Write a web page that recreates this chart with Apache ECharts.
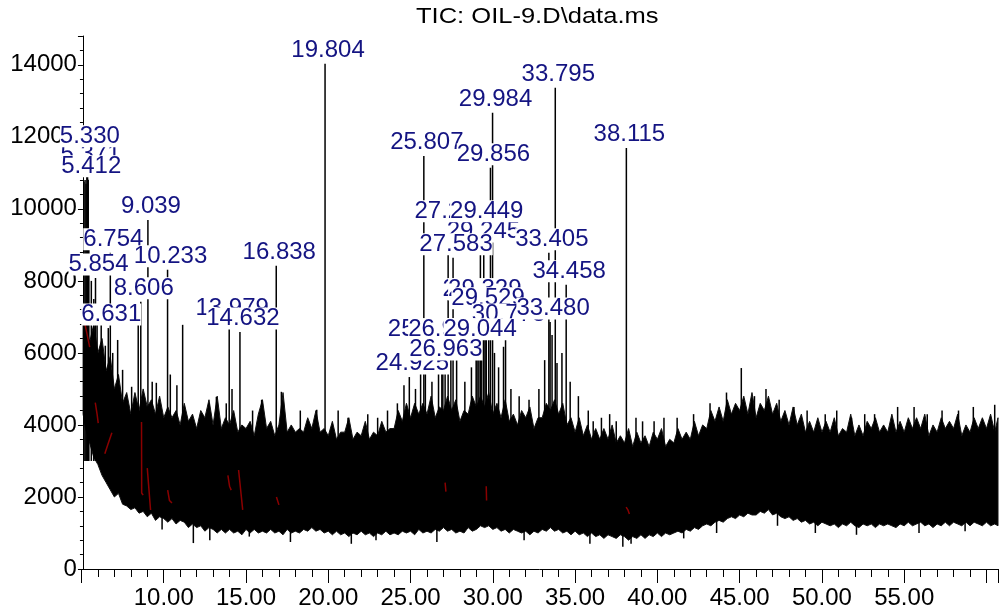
<!DOCTYPE html>
<html><head><meta charset="utf-8">
<script src="https://cdn.jsdelivr.net/npm/echarts@6.0.0/dist/echarts.min.js"></script>
<style>html,body{margin:0;padding:0;background:#fff}#c{width:1001px;height:615px}</style>
</head><body><div id="c"></div>
<script>
const TITLE = 'TIC: OIL-9.D\\data.ms';
const X_TICK_LABELS = ['10.00','15.00','20.00','25.00','30.00','35.00','40.00','45.00','50.00','55.00'];
const Y_TICK_LABELS = ['0','2000','4000','6000','8000','10000','12000','14000'];

// noise band envelope (retention time in min, abundance)
const ENV_TIME = [5.1,5.25,5.5,5.75,6.0,6.25,6.5,6.75,7.0,7.25,7.5,7.75,8.0,8.25,8.5,8.75,9.0,9.25,9.5,9.75,10.0,10.25,10.5,10.75,11.0,11.25,11.5,11.75,12.0,12.25,12.5,12.75,13.0,13.25,13.5,13.75,14.0,14.25,14.5,14.75,15.0,15.25,15.5,15.75,16.0,16.25,16.5,16.75,17.0,17.25,17.5,17.75,18.0,18.25,18.5,18.75,19.0,19.25,19.5,19.75,20.0,20.25,20.5,20.75,21.0,21.25,21.5,21.75,22.0,22.25,22.5,22.75,23.0,23.25,23.5,23.75,24.0,24.25,24.5,24.75,25.0,25.25,25.5,25.75,26.0,26.25,26.5,26.75,27.0,27.25,27.5,27.75,28.0,28.25,28.5,28.75,29.0,29.25,29.5,29.75,30.0,30.25,30.5,30.75,31.0,31.25,31.5,31.75,32.0,32.25,32.5,32.75,33.0,33.25,33.5,33.75,34.0,34.25,34.5,34.75,35.0,35.25,35.5,35.75,36.0,36.25,36.5,36.75,37.0,37.25,37.5,37.75,38.0,38.25,38.5,38.75,39.0,39.25,39.5,39.75,40.0,40.25,40.5,40.75,41.0,41.25,41.5,41.75,42.0,42.25,42.5,42.75,43.0,43.25,43.5,43.75,44.0,44.25,44.5,44.75,45.0,45.25,45.5,45.75,46.0,46.25,46.5,46.75,47.0,47.25,47.5,47.75,48.0,48.25,48.5,48.75,49.0,49.25,49.5,49.75,50.0,50.25,50.5,50.75,51.0,51.25,51.5,51.75,52.0,52.25,52.5,52.75,53.0,53.25,53.5,53.75,54.0,54.25,54.5,54.75,55.0,55.25,55.5,55.75,56.0,56.25,56.5,56.75,57.0,57.25,57.5,57.75,58.0,58.25,58.5,58.75,59.0,59.25,59.5,59.75,60.0,60.25,60.5,60.7];
const ENV_TOP = [7000,6900,6300,6800,6000,6400,5500,5900,5000,5400,4600,4900,4300,4900,4400,5000,4500,4700,4300,4800,4200,4500,4200,4400,4000,4600,4100,4300,3900,4400,4200,4700,4000,4800,3900,4200,4000,4400,3800,4000,3900,4100,3700,4300,4700,3900,4100,3700,4000,4900,3800,4000,3800,3900,3800,4200,3900,4400,3800,3900,3700,4100,3600,3800,3800,4200,3600,3800,3700,4100,3600,3800,3700,4100,3800,3900,3900,4400,4100,4600,4200,4600,4300,4600,4300,4800,4200,4500,4400,4800,4400,4700,4100,4400,4300,4800,4500,4800,4500,4900,4300,4600,4200,4700,4100,4300,4000,4400,4200,4500,3900,4200,4200,4600,4400,4700,4300,4600,4000,4200,3800,4200,3700,4000,3600,3900,3600,3900,3600,4000,3500,3700,3500,3900,3400,3800,3500,3700,3400,3800,3600,3900,3400,3600,3500,3900,3600,3800,3600,4100,3700,4000,3900,4400,4100,4500,4100,4700,4300,4600,4400,4800,4300,4900,4200,4600,4400,4800,4300,4600,4100,4400,4000,4500,4000,4300,3800,4100,3800,4200,3800,4100,3800,4200,3700,3900,3800,4300,3700,4000,3700,4100,3900,4200,3800,4000,3800,4300,3800,4100,3800,4200,3900,4200,3900,4300,3700,4000,3800,4200,3900,4100,3900,4300,3700,4000,3800,4200,3900,4200,3900,4300,3800,4200];
const ENV_BOTTOM = [4300,3900,3500,3100,2900,2600,2400,2200,2000,2100,1800,1750,1650,1700,1550,1600,1450,1550,1350,1450,1400,1300,1400,1250,1350,1300,1150,1250,1150,1200,1050,1150,1100,1000,1100,1000,1100,1000,1050,950,1100,1000,1100,1000,1050,1000,1100,1000,1050,950,1100,1000,1050,1000,1100,1050,1150,1050,1100,1000,1050,950,1050,950,1000,900,1000,950,1050,950,1000,900,1000,950,1050,950,1000,950,1050,1000,1050,950,1100,1000,1050,1000,1100,1050,1150,1050,1100,1000,1050,1000,1150,1050,1100,1200,1150,1200,1100,1150,1050,1100,1000,1100,1050,1000,1050,950,1050,1000,1100,1050,1150,1050,1100,1000,1050,950,1050,950,1000,900,1000,900,950,850,950,900,850,950,900,800,900,850,950,850,950,900,1000,900,1000,950,1000,1050,1000,1100,1050,1150,1100,1200,1250,1200,1300,1350,1300,1400,1450,1400,1500,1450,1550,1500,1500,1600,1550,1650,1500,1550,1450,1400,1450,1350,1400,1300,1350,1250,1300,1200,1300,1250,1200,1250,1150,1250,1200,1300,1200,1150,1250,1200,1250,1150,1250,1200,1250,1200,1150,1250,1200,1300,1200,1250,1300,1200,1250,1150,1250,1200,1300,1200,1300,1250,1200,1300,1200,1300,1250,1200,1300,1200,1250,1200];

// labelled peaks (drawing order: later ones cover earlier ones)
const PEAK_LABELS = ['5.371','5.330','5.412','6.754','5.854','6.631','9.039','10.233','8.606','13.979','14.632','16.838','19.804','25.807','29.984','29.856','27.284','29.245','29.449','27.583','33.795','38.115','33.405','34.458','28.986','29.329','29.529','30.773','33.480','25.611','26.902','29.044','24.925','26.963'];
const PEAK_TIMES = [5.371,5.330,5.412,6.754,5.854,6.631,9.039,10.233,8.606,13.979,14.632,16.838,19.804,25.807,29.984,29.856,27.284,29.245,29.449,27.583,33.795,38.115,33.405,34.458,28.986,29.329,29.529,30.773,33.480,25.611,26.902,29.044,24.925,26.963];
const PEAK_HEIGHTS = [11140,11640,10810,8780,8080,6690,9690,8310,7420,6860,6580,8420,14030,11470,12670,11140,9560,9000,9560,8640,13360,11690,8780,7890,7390,7390,7140,6690,6860,6280,6280,6280,5330,5720];

// unlabelled upward spikes
const MINOR_TIMES = [5.15,5.22,5.28,5.45,5.6,5.75,5.95,6.2,6.45,6.9,7.2,7.5,8.05,8.45,9.3,9.55,10.4,10.8,11.15,12.75,13.2,13.8,14.15,15.4,15.95,17.15,18.3,19.3,20.6,21.2,22.4,23.0,23.6,24.2,24.6,25.3,25.9,26.3,26.7,27.1,27.45,27.8,28.3,28.7,29.15,29.6,29.75,30.1,30.35,30.65,31.1,31.6,32.2,32.8,33.15,33.6,33.9,34.2,34.7,35.2,35.8,36.1,36.6,37.1,37.5,38.7,39.1,39.8,40.4,41.2,42.2,43.2,44.2,45.1,45.9,46.6,47.4,48.3,49.1,50.2,50.9,51.8,52.6,53.2,54.6,55.6,56.4,57.3,58.3,59.2,60.5];
const MINOR_HEIGHTS = [10750,10800,10700,9000,8000,7500,7000,6900,6200,6000,6360,5530,5060,6900,5200,5170,5400,5100,6780,4600,4780,4600,5000,4400,4700,4920,4400,4420,4400,4200,4300,4200,4400,4600,5100,5000,6000,5200,5500,6200,6000,5800,5200,5600,6800,6500,7200,6000,5600,6170,5000,4800,4700,5000,5800,6500,5720,6000,5200,4800,4400,4100,4200,4300,4100,4200,4100,4100,4200,4200,4300,4600,4900,5580,4800,5000,4700,4500,4400,4300,4400,4200,4300,4300,4500,4500,4300,4400,4400,4500,4560];

// downward dips below the noise band
const DIP_TIMES = [9.9,11.8,12.8,15.2,17.7,21.4,22.9,26.6,31.9,35.9,37.9,38.4,41.6,43.6,47.3,49.6,52.1,55.9,58.7];
const DIP_VALUES = [1100,720,800,900,750,700,800,750,800,700,620,700,850,1000,1200,1000,950,1000,1050];

// second (dark red) trace, visible only in short pieces; null breaks the line
const RED_TIMES = [5.2,5.35,5.5,null,5.84,5.95,6.02,null,6.42,6.6,6.85,null,8.65,8.66,8.75,null,9.0,9.1,9.2,null,10.24,10.35,10.5,null,13.9,14.0,14.1,null,14.55,14.6,14.8,null,16.85,16.9,17.0,null,27.1,27.15,null,29.6,29.62,null,38.1,38.2,38.3];
const RED_VALUES = [6830,6500,6160,null,4620,4300,4050,null,3200,3450,3780,null,4080,2110,2050,null,2800,2750,1640,null,2190,1900,1830,null,2600,2300,2190,null,2750,2700,1640,null,2000,1950,1780,null,2400,2150,null,2300,1900,null,1720,1650,1530];

const SPIKE_BASE = 3000;
const DIP_BASE = 2000;
const FONT = 'Liberation Sans, Arial, sans-serif';

const chart = echarts.init(document.getElementById('c'), null, {renderer: 'canvas'});

const spikeData = MINOR_TIMES.map((t, i) => [t, SPIKE_BASE, MINOR_HEIGHTS[i]])
  .concat(DIP_TIMES.map((t, i) => [t, DIP_BASE, DIP_VALUES[i]]))
  .concat(PEAK_TIMES.map((t, i) => [t, SPIKE_BASE, PEAK_HEIGHTS[i]]));

const redData = RED_TIMES.map((t, i) => t === null ? ['-', '-'] : [t, RED_VALUES[i]]);

chart.setOption({
  animation: false,
  backgroundColor: '#fff',
  graphic: [{
    type: 'text', x: 416, y: 6, scaleX: 1.16, z: 20,
    style: {text: TITLE, fill: '#000', font: '22px ' + FONT}
  }],
  grid: {left: 81.45, right: 0, top: 36, bottom: 46, containLabel: false},
  xAxis: {
    type: 'value', min: 5, max: 60.7, interval: 5,
    axisLine: {show: true, lineStyle: {color: '#000', width: 1}},
    axisTick: {show: true, length: 14, lineStyle: {color: '#000'}},
    minorTick: {show: true, splitNumber: 5, length: 8, lineStyle: {color: '#000'}},
    splitLine: {show: false},
    axisLabel: {
      margin: 17, color: '#000', fontSize: 24, fontFamily: FONT,
      formatter: v => { const i = X_TICK_LABELS.indexOf(v.toFixed(2)); return i >= 0 ? X_TICK_LABELS[i] : ''; }
    }
  },
  yAxis: {
    type: 'value', min: 0, max: 14800, interval: 2000, offset: -1.5,
    axisLine: {show: true, lineStyle: {color: '#000', width: 1}},
    axisTick: {show: true, length: 5, lineStyle: {color: '#000'}},
    minorTick: {show: true, splitNumber: 5, length: 3, lineStyle: {color: '#000'}},
    splitLine: {show: false},
    axisLabel: {
      margin: 6, color: '#000', fontSize: 24, fontFamily: FONT,
      formatter: v => { const s = String(Math.round(v)); return Y_TICK_LABELS.indexOf(s) >= 0 && v % 2000 === 0 ? s : ''; }
    }
  },
  series: [
    {
      type: 'custom', clip: true, silent: true, z: 2,
      data: ENV_TIME.map((t, i) => [t, ENV_TOP[i]]),
      renderItem: (params, api) => {
        if (params.dataIndex !== 0) return null;
        const pts = [];
        for (let i = 0; i < ENV_TIME.length; i++) pts.push(api.coord([ENV_TIME[i], ENV_TOP[i]]));
        for (let i = ENV_TIME.length - 1; i >= 0; i--) pts.push(api.coord([ENV_TIME[i], ENV_BOTTOM[i]]));
        return {type: 'polygon', shape: {points: pts}, style: {fill: '#000', stroke: '#111', lineWidth: 1}};
      }
    },
    {
      type: 'custom', clip: true, silent: true, z: 3,
      data: spikeData,
      renderItem: (params, api) => {
        const t = api.value(0);
        const p1 = api.coord([t, api.value(1)]), p2 = api.coord([t, api.value(2)]);
        return {type: 'line', shape: {x1: p1[0], y1: p1[1], x2: p2[0], y2: p2[1]}, style: {stroke: '#000', lineWidth: 1.5}};
      }
    },
    {
      type: 'line', silent: true, z: 4, symbol: 'none', connectNulls: false, clip: true,
      data: redData,
      lineStyle: {color: '#8b0000', width: 1.5}
    },
    {
      type: 'scatter', silent: true, z: 10, symbolSize: 1,
      itemStyle: {color: 'rgba(0,0,0,0)', opacity: 1},
      data: PEAK_TIMES.map((t, i) => ({value: [t, PEAK_HEIGHTS[i]], name: PEAK_LABELS[i]})),
      label: {
        show: true, position: [3.5, -2], align: 'center', verticalAlign: 'bottom', formatter: '{b}',
        color: '#141482', fontSize: 24, fontFamily: FONT, opacity: 1,
        backgroundColor: '#fff', lineHeight: 22, padding: 0
      },
      labelLayout: {hideOverlap: false}
    }
  ]
});
</script>
</body></html>
